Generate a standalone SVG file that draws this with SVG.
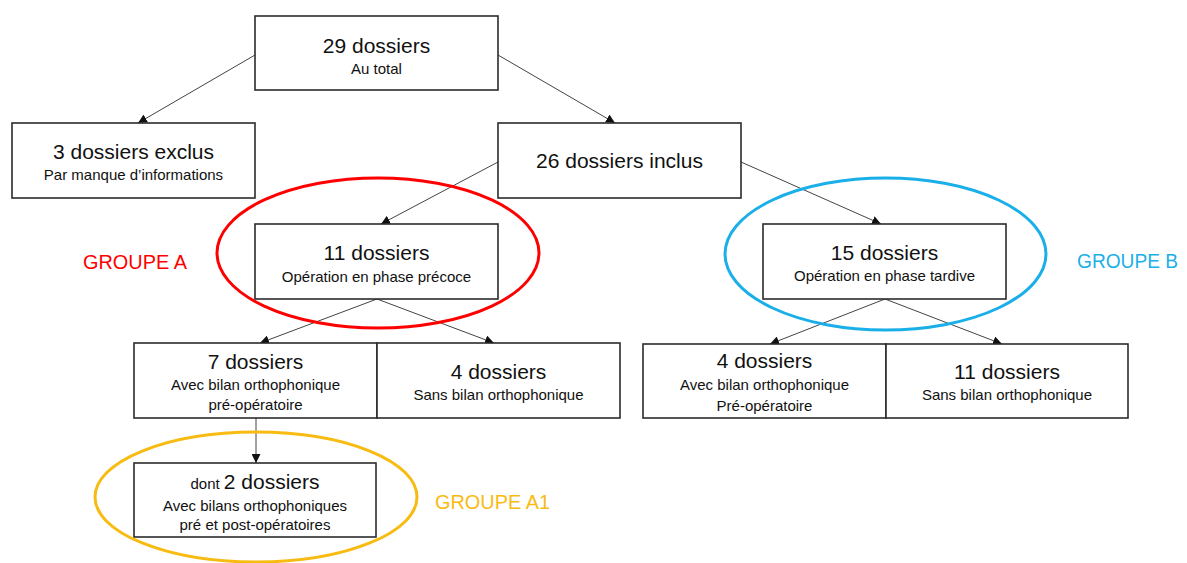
<svg xmlns="http://www.w3.org/2000/svg" width="1187" height="563" viewBox="0 0 1187 563">
<style>
.box{fill:#fff;stroke:#2b2b2b;stroke-width:1.6}
.main{font-family:"Liberation Sans",Arial,sans-serif;font-size:21px;fill:#111;text-anchor:middle}
.sub{font-family:"Liberation Sans",Arial,sans-serif;font-size:15px;fill:#111;text-anchor:middle}
.conn{stroke:#444;stroke-width:1;fill:none;marker-end:url(#arr)}
.grp{font-family:"Liberation Sans",Arial,sans-serif;font-size:20px}
.ell{fill:none;stroke-width:3}
</style>
<defs>
<marker id="arr" viewBox="0 0 10 10" refX="10" refY="5" markerWidth="9" markerHeight="9" markerUnits="userSpaceOnUse" orient="auto">
<path d="M0,0 L10,5 L0,10 z" fill="#111"/>
</marker>
</defs>
<rect width="1187" height="563" fill="#fff"/>
<g id="connectors">
<line class="conn" x1="255" y1="55" x2="138" y2="123"/>
<line class="conn" x1="498" y1="55" x2="615" y2="123"/>
<line class="conn" x1="498" y1="162" x2="381" y2="224"/>
<line class="conn" x1="741" y1="162" x2="881" y2="224"/>
<line class="conn" x1="377" y1="299" x2="260" y2="343"/>
<line class="conn" x1="377" y1="299" x2="494" y2="343"/>
<line class="conn" x1="885" y1="299" x2="770" y2="344"/>
<line class="conn" x1="885" y1="299" x2="1002" y2="344"/>
<line class="conn" x1="256" y1="418" x2="256" y2="463"/>
</g>
<g id="n29">
<rect class="box" x="255" y="16" width="243" height="74"/>
<text class="main" x="376.5" y="53">29 dossiers</text>
<text class="sub" x="376.5" y="74">Au total</text>
</g>
<g id="n3">
<rect class="box" x="12" y="123" width="243" height="75"/>
<text class="main" x="133.5" y="159">3 dossiers exclus</text>
<text class="sub" x="133.5" y="180">Par manque d’informations</text>
</g>
<g id="n26">
<rect class="box" x="498" y="123" width="243" height="75"/>
<text class="main" x="619.5" y="168">26 dossiers inclus</text>
</g>
<g id="n11">
<rect class="box" x="255" y="224" width="243" height="75"/>
<text class="main" x="376.5" y="260">11 dossiers</text>
<text class="sub" x="376.5" y="282">Opération en phase précoce</text>
</g>
<g id="n15">
<rect class="box" x="763" y="224" width="243" height="75"/>
<text class="main" x="884.5" y="260">15 dossiers</text>
<text class="sub" x="884.5" y="281">Opération en phase tardive</text>
</g>
<g id="n7">
<rect class="box" x="134" y="343" width="243" height="75"/>
<text class="main" x="255.5" y="369">7 dossiers</text>
<text class="sub" x="255.5" y="390">Avec bilan orthophonique</text>
<text class="sub" x="255.5" y="410">pré-opératoire</text>
</g>
<g id="n4a">
<rect class="box" x="377" y="343" width="243" height="75"/>
<text class="main" x="498.5" y="379">4 dossiers</text>
<text class="sub" x="498.5" y="400">Sans bilan orthophonique</text>
</g>
<g id="n4b">
<rect class="box" x="643" y="344" width="243" height="74"/>
<text class="main" x="764.5" y="368">4 dossiers</text>
<text class="sub" x="764.5" y="390">Avec bilan orthophonique</text>
<text class="sub" x="764.5" y="410.5">Pré-opératoire</text>
</g>
<g id="n11b">
<rect class="box" x="886" y="344" width="242" height="74"/>
<text class="main" x="1007" y="379">11 dossiers</text>
<text class="sub" x="1007" y="400">Sans bilan orthophonique</text>
</g>
<g id="n2">
<rect class="box" x="134" y="463" width="242" height="74"/>
<text class="main" x="255" y="489"><tspan font-size="15">dont </tspan>2 dossiers</text>
<text class="sub" x="255" y="511">Avec bilans orthophoniques</text>
<text class="sub" x="255" y="530">pré et post-opératoires</text>
</g>
<g id="groupA">
<ellipse class="ell" cx="378" cy="253" rx="161" ry="75" stroke="#FF0000"/>
<text class="grp" x="83" y="269" fill="#FF0000" textLength="104" lengthAdjust="spacingAndGlyphs">GROUPE A</text>
</g>
<g id="groupB">
<ellipse class="ell" cx="885.5" cy="254" rx="160.5" ry="76" stroke="#1AAFE8"/>
<text class="grp" x="1077" y="268" fill="#1AAFE8" textLength="101" lengthAdjust="spacingAndGlyphs">GROUPE B</text>
</g>
<g id="groupA1">
<ellipse class="ell" cx="256" cy="497" rx="161" ry="65" stroke="#F8BB12"/>
<text class="grp" x="435" y="509" fill="#F8BB12" textLength="115" lengthAdjust="spacingAndGlyphs">GROUPE A1</text>
</g>
</svg>
